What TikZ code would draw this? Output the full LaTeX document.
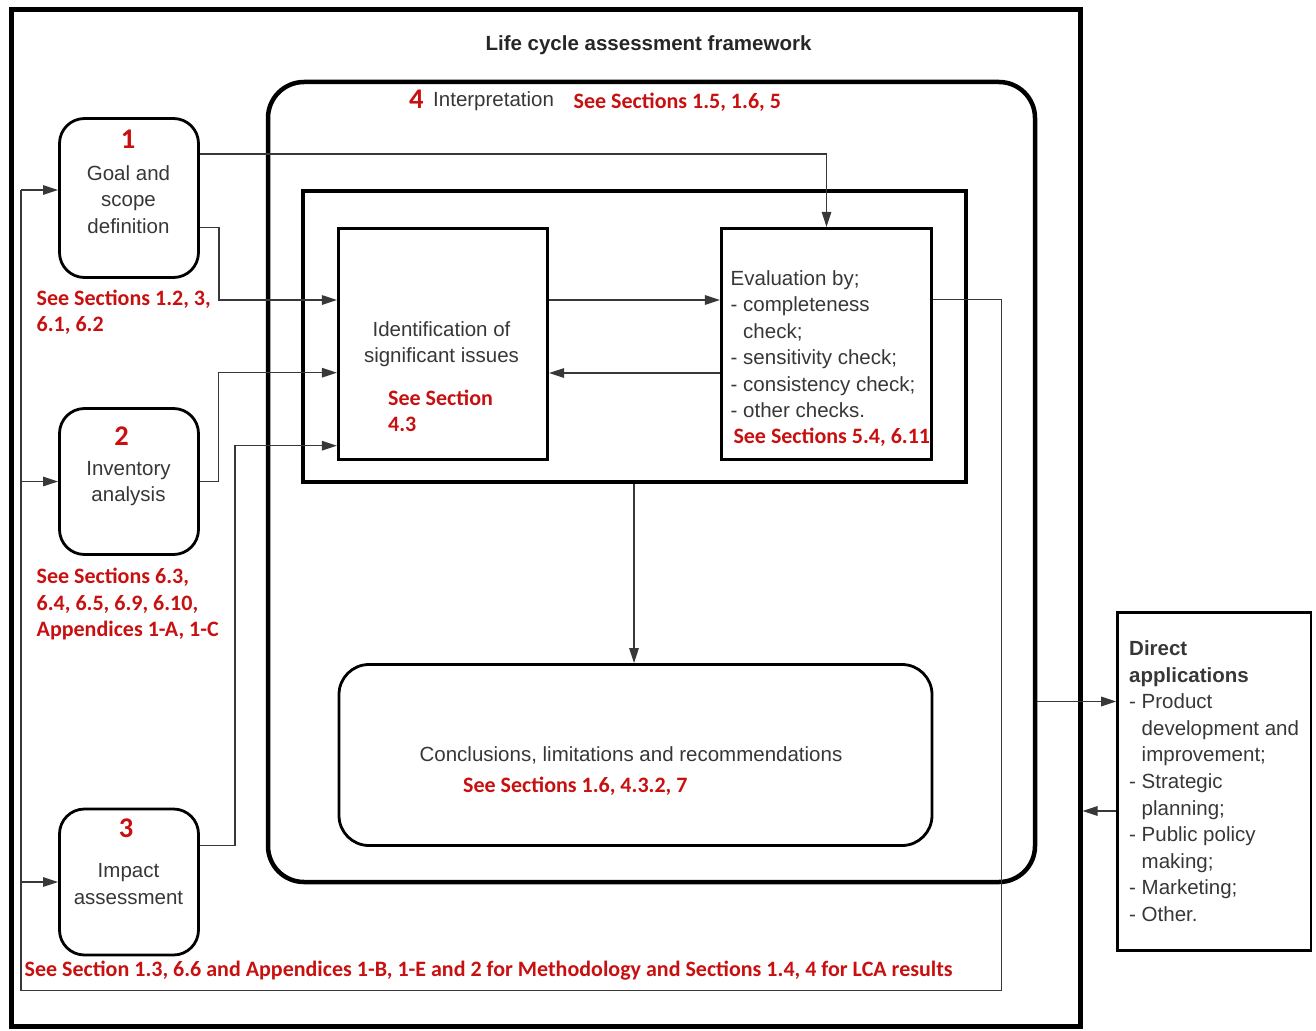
\documentclass[tikz,border=0pt]{standalone}
\usepackage{fontspec}
\setmainfont{Liberation Sans}
\newfontfamily\redfam{Carlito}
\usetikzlibrary{arrows.meta,calc}
\definecolor{lcared}{RGB}{200,16,16}
\definecolor{txtgray}{RGB}{55,55,55}
\newcommand\TL[1]{\begin{tabular}[t]{@{}l@{}}#1\end{tabular}}
\newcommand\TC[1]{\begin{tabular}[t]{@{}c@{}}#1\end{tabular}}
\newcommand\hang{\hphantom{-\ }}
\begin{document}
\begin{tikzpicture}[x=1pt,y=-1pt,
  body/.style={font=\fontsize{20.5}{26.5}\selectfont, text=txtgray, inner sep=0pt},
  redtxt/.style={font=\redfam\bfseries\fontsize{22}{26.8}\selectfont, text=lcared, inner sep=0pt},
  num/.style={font=\redfam\bfseries\fontsize{28.5}{30}\selectfont, text=lcared, inner sep=0pt},
  phase/.style={draw, line width=2.8pt, rounded corners=25pt, minimum width=139pt},
  sqbox/.style={draw, line width=3.2pt},
  conn/.style={draw=black!78, line width=1.4pt, -{Triangle[length=15pt,width=9.5pt]}},
  plain/.style={draw=black!78, line width=1.4pt},
]
\useasboundingbox (0,0) rectangle (1316,1030);

% containers
\node[draw, line width=5pt, minimum width=1069pt, minimum height=1016pt] (frame) at (545.5,518) {};
\node[draw, line width=4.5pt, rounded corners=36pt, minimum width=767pt, minimum height=800pt] (interp) at (651.5,482) {};
\node[sqbox, minimum width=663pt, minimum height=291pt] (inner) at (634.5,336.5) {};

% boxes
\node[sqbox, minimum width=209pt, minimum height=231pt] (ident) at (443,344) {};
\node[sqbox, minimum width=210pt, minimum height=231pt] (eval) at (826.5,344) {};
\node[draw, line width=2.8pt, rounded corners=30pt, minimum width=593pt, minimum height=181pt] (concl) at (635.5,755) {};
\node[phase, minimum height=159pt] (goal) at (129,198) {};
\node[phase, minimum height=146pt] (inv) at (129,481.5) {};
\node[phase, minimum height=146pt] (imp) at (129,882) {};
\node[draw, line width=2.6pt, minimum width=193.5pt, minimum height=338pt] (apps) at (1214.25,781.5) {};

% texts
\node[body, font=\bfseries\fontsize{20.5}{26.5}\selectfont, text=black!85, anchor=base] (title) at (648.5,50.5) {Life cycle assessment framework};
\node[num, anchor=base west] (n4) at (409,108.5) {4};
\node[body, anchor=base west] (interpt) at (433,106.5) {Interpretation};
\node[redtxt, anchor=base west] (interpr) at (573.5,108.5) {See Sections 1.5, 1.6, 5};

\node[num, anchor=base] (n1) at (128,148) {1};
\node[body, anchor=base] (goalt) at (128.5,180) {\TC{Goal and\\scope\\definition}};
\node[redtxt, anchor=base west] (goalr) at (36.5,305) {\TL{See Sections 1.2, 3,\\6.1, 6.2}};

\node[num, anchor=base] (n2) at (121.5,445) {2};
\node[body, anchor=base] (invt) at (128.5,475) {\TC{Inventory\\analysis}};
\node[redtxt, anchor=base west] (invr) at (36.5,583.3) {\TL{See Sections 6.3,\\6.4, 6.5, 6.9, 6.10,\\Appendices 1-A, 1-C}};

\node[num, anchor=base] (n3) at (126,837) {3};
\node[body, anchor=base] (impt) at (128.5,877.5) {\TC{Impact\\assessment}};
\node[redtxt, anchor=base west] (impr) at (24.5,976.7) {See Section 1.3, 6.6 and Appendices 1-B, 1-E and 2 for Methodology and Sections 1.4, 4 for LCA results};

\node[body, anchor=base] (identt) at (441.5,336) {\TC{Identification of\\significant issues}};
\node[redtxt, anchor=base west] (identr) at (388,405) {\TL{See Section\\4.3}};

\node[body, font=\fontsize{20.5}{26.4}\selectfont, anchor=base west] (evalt) at (730.5,285.5) {\TL{Evaluation by;\\- completeness\\\hang check;\\- sensitivity check;\\- consistency check;\\- other checks.}};
\node[redtxt, anchor=base west] (evalr) at (733.3,443) {See Sections 5.4, 6.11};

\node[body, anchor=base] (conclt) at (631,761.5) {Conclusions, limitations and recommendations};
\node[redtxt, anchor=base west] (conclr) at (463,792.7) {See Sections 1.6, 4.3.2, 7};

\node[body, font=\fontsize{20.5}{26.6}\selectfont, anchor=base west] (appst) at (1129,655.5) {\TL{\textbf{Direct}\\\textbf{applications}\\- Product\\\hang development and\\\hang improvement;\\- Strategic\\\hang planning;\\- Public policy\\\hang making;\\- Marketing;\\- Other.}};

% connectors
\draw[conn] ([yshift=44pt]goal.east) -| (eval.north);
\draw[conn] ([yshift=-29.3pt]goal.east) -- ++(19,0) |- ([yshift=44pt]ident.west);
\draw[conn] (inv.east) -- ++(18.5,0) |- ([yshift=-28.7pt]ident.west);
\draw[conn] ([yshift=36.3pt]imp.east) -- ++(35,0) |- ([yshift=-101.7pt]ident.west);
\draw[conn] ([yshift=44pt]ident.east) -- ([yshift=44pt]eval.west);
\draw[conn] ([yshift=-29pt]eval.west) -- ([yshift=-29pt]ident.east);
\draw[conn] (inner.south -| 634,0) -- (concl.north -| 634,0);

% feedback loop
\coordinate (fbr) at (1001.5,990.5);
\coordinate (fbl) at (21,990.5);
\coordinate (fbt) at (21,190);
\draw[plain] ([yshift=44.7pt]eval.east) -| (fbr) -- (fbl) -- (fbt);
\draw[conn] (fbt) -- (fbt -| goal.west);
\draw[conn] (fbl |- inv.west) -- (inv.west);
\draw[conn] (fbl |- imp.west) -- (imp.west);

% direct applications
\coordinate (o1) at ([yshift=-219.5pt]interp.east);
\draw[conn] (o1) -- (o1 -| apps.west);
\coordinate (o2) at ([yshift=-29.5pt]apps.west);
\draw[conn] (o2) -- (o2 -| frame.east);
\end{tikzpicture}
\end{document}
